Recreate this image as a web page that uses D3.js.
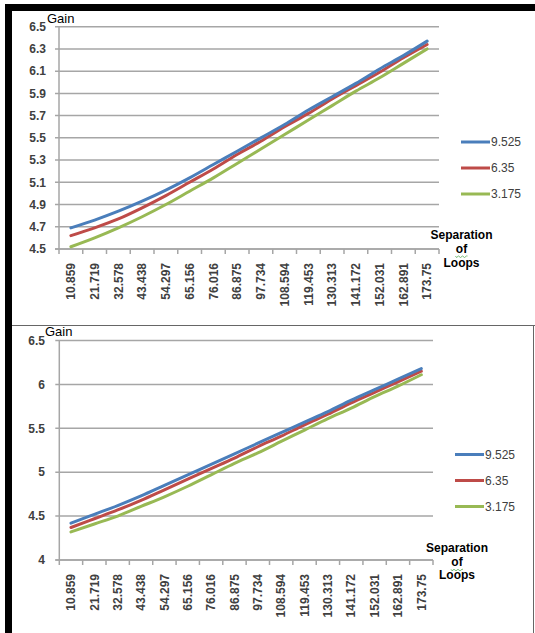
<!DOCTYPE html>
<html><head><meta charset="utf-8">
<script src="https://cdn.jsdelivr.net/npm/d3@7"></script>
<style>
html,body{margin:0;padding:0;background:#fff;}
svg{display:block;}
text{font-family:"Liberation Sans",Arial,sans-serif;}
</style></head>
<body>
<svg id="c" width="535" height="633"></svg>
<script>
// ---- data ----
const categories = ["10.859","21.719","32.578","43.438","54.297","65.156","76.016","86.875","97.734","108.594","119.453","130.313","141.172","152.031","162.891","173.75"];
const seriesNames = ["9.525","6.35","3.175"];
const seriesColors = ["#4a7ebb","#be4b48","#98b954"];

const topBlue  = [4.69,4.76,4.84,4.93,5.03,5.14,5.26,5.38,5.50,5.62,5.75,5.87,5.99,6.12,6.24,6.37];
const topRed   = [4.62,4.69,4.77,4.87,4.98,5.10,5.22,5.35,5.47,5.60,5.72,5.85,5.97,6.09,6.22,6.34];
const topGreen = [4.52,4.60,4.69,4.79,4.90,5.02,5.14,5.27,5.40,5.53,5.66,5.79,5.92,6.04,6.17,6.30];
const topTicks = ["4.5","4.7","4.9","5.1","5.3","5.5","5.7","5.9","6.1","6.3","6.5"];

const botBlue  = [4.42,4.52,4.62,4.73,4.85,4.97,5.09,5.21,5.33,5.45,5.57,5.69,5.82,5.94,6.06,6.18];
const botRed   = [4.37,4.47,4.57,4.68,4.80,4.92,5.04,5.16,5.29,5.41,5.54,5.66,5.79,5.91,6.03,6.15];
const botGreen = [4.32,4.41,4.50,4.61,4.72,4.84,4.97,5.10,5.22,5.35,5.48,5.61,5.73,5.86,5.98,6.11];
const botTicks = ["4","4.5","5","5.5","6","6.5"];

const yTitle = "Gain";
const xTitle = ["Separation","of","Loops"];

// ---- drawing ----
const svg = d3.select("#c");
svg.append("rect").attr("width",535).attr("height",633).attr("fill","#fff");

// frame
svg.append("rect").attr("x",5).attr("y",4).attr("width",7).attr("height",629).attr("fill","#000");
svg.append("rect").attr("x",5).attr("y",4).attr("width",530).attr("height",7).attr("fill","#000");
svg.append("line").attr("x1",12).attr("x2",535).attr("y1",325.5).attr("y2",325.5).attr("stroke","#666").attr("stroke-width",1);
svg.append("line").attr("x1",533.5).attr("x2",533.5).attr("y1",325).attr("y2",633).attr("stroke","#666").attr("stroke-width",1);

function drawChart(cfg){
  const g = svg.append("g");
  const x = d3.scaleBand().domain(categories).range([cfg.x0,cfg.x1]);
  const y = d3.scaleLinear().domain(cfg.domain).range([cfg.yb,cfg.yt]);
  const tickVals = cfg.ticks.map(Number);

  // gridlines + y ticks
  g.selectAll(".grid").data(tickVals).join("line")
    .attr("x1",cfg.x0-4).attr("x2",cfg.x1)
    .attr("y1",d=>y(d)).attr("y2",d=>y(d))
    .attr("stroke","#a6a6a6").attr("stroke-width",1.5);
  // y axis line
  g.append("line").attr("x1",cfg.x0).attr("x2",cfg.x0)
    .attr("y1",y(cfg.domain[1])).attr("y2",y(cfg.domain[0]))
    .attr("stroke","#a6a6a6").attr("stroke-width",1.5);
  // x axis line
  g.append("line").attr("x1",cfg.x0-4).attr("x2",cfg.x1)
    .attr("y1",cfg.yb).attr("y2",cfg.yb)
    .attr("stroke","#a6a6a6").attr("stroke-width",1.5);
  // x tick marks at band boundaries
  const bounds = categories.map(c=>x(c)).concat([cfg.x1]);
  g.selectAll(".xt").data(bounds).join("line")
    .attr("x1",d=>d).attr("x2",d=>d).attr("y1",cfg.yb).attr("y2",cfg.yb+5)
    .attr("stroke","#a6a6a6").attr("stroke-width",1.5);

  // y tick labels
  g.selectAll(".yl").data(cfg.ticks).join("text")
    .attr("x",cfg.ylx).attr("y",d=>y(+d)).attr("dy","0.35em")
    .attr("text-anchor","end").attr("font-size",12).attr("font-weight","bold")
    .attr("fill","#404040").text(d=>d);

  // x tick labels
  g.selectAll(".xl").data(categories).join("text")
    .attr("transform",d=>`translate(${x(d)+x.bandwidth()/2},${cfg.yb+14}) rotate(-90)`)
    .attr("dy","0.35em").attr("text-anchor","end").attr("font-size",12)
    .attr("font-weight","bold").attr("fill","#404040").text(d=>d);

  // lines
  const line = d3.line().x((d,i)=>x(categories[i])+x.bandwidth()/2).y(d=>y(d)).curve(d3.curveMonotoneX);
  cfg.series.slice().reverse().forEach((s,ri)=>{
    const i = cfg.series.length-1-ri;
    g.append("path").attr("d",line(s)).attr("fill","none")
      .attr("stroke",seriesColors[i]).attr("stroke-width",3).attr("stroke-linecap","round");
  });

  // title
  g.append("text").attr("x",cfg.gx).attr("y",cfg.gy).attr("font-size",13).attr("fill","#000").text(yTitle);

  // legend
  seriesNames.forEach((n,i)=>{
    const ly = cfg.ly + i*cfg.lstep;
    g.append("line").attr("x1",cfg.lx).attr("x2",cfg.lx+29).attr("y1",ly).attr("y2",ly)
      .attr("stroke",seriesColors[i]).attr("stroke-width",3);
    g.append("text").attr("x",cfg.lx+30).attr("y",ly).attr("dy","0.35em")
      .attr("font-size",12).attr("fill","#404040").text(n);
  });

  // x title
  xTitle.forEach((t,i)=>{
    g.append("text").attr("x",cfg.sx).attr("y",cfg.sy+i*cfg.sstep).attr("text-anchor","middle")
      .attr("font-size",12).attr("font-weight","bold").attr("fill","#000").text(t);
  });
  // spell-check squiggle under "of"
  const sq = d3.path();
  const sy0 = cfg.sy+cfg.sstep+3.5;
  sq.moveTo(cfg.sx-6, sy0);
  for(let k=0;k<6;k++){ sq.lineTo(cfg.sx-6+k*2+1, sy0+(k%2?0:1.5)); }
  sq.lineTo(cfg.sx+6, sy0);
  g.append("path").attr("d",sq.toString()).attr("fill","none").attr("stroke","#5a5").attr("stroke-width",0.8);
}

drawChart({x0:59,x1:439,yt:26.7,yb:249,domain:[4.5,6.5],ticks:topTicks,
  series:[topBlue,topRed,topGreen],ylx:46,gx:47,gy:23,
  lx:461,ly:142,lstep:26,sx:461.5,sy:238.5,sstep:14});
drawChart({x0:59.3,x1:433,yt:340.5,yb:560,domain:[4,6.5],ticks:botTicks,
  series:[botBlue,botRed,botGreen],ylx:45,gx:45,gy:336,
  lx:455,ly:454.5,lstep:26,sx:457,sy:552.3,sstep:13.5});
</script>
</body></html>
